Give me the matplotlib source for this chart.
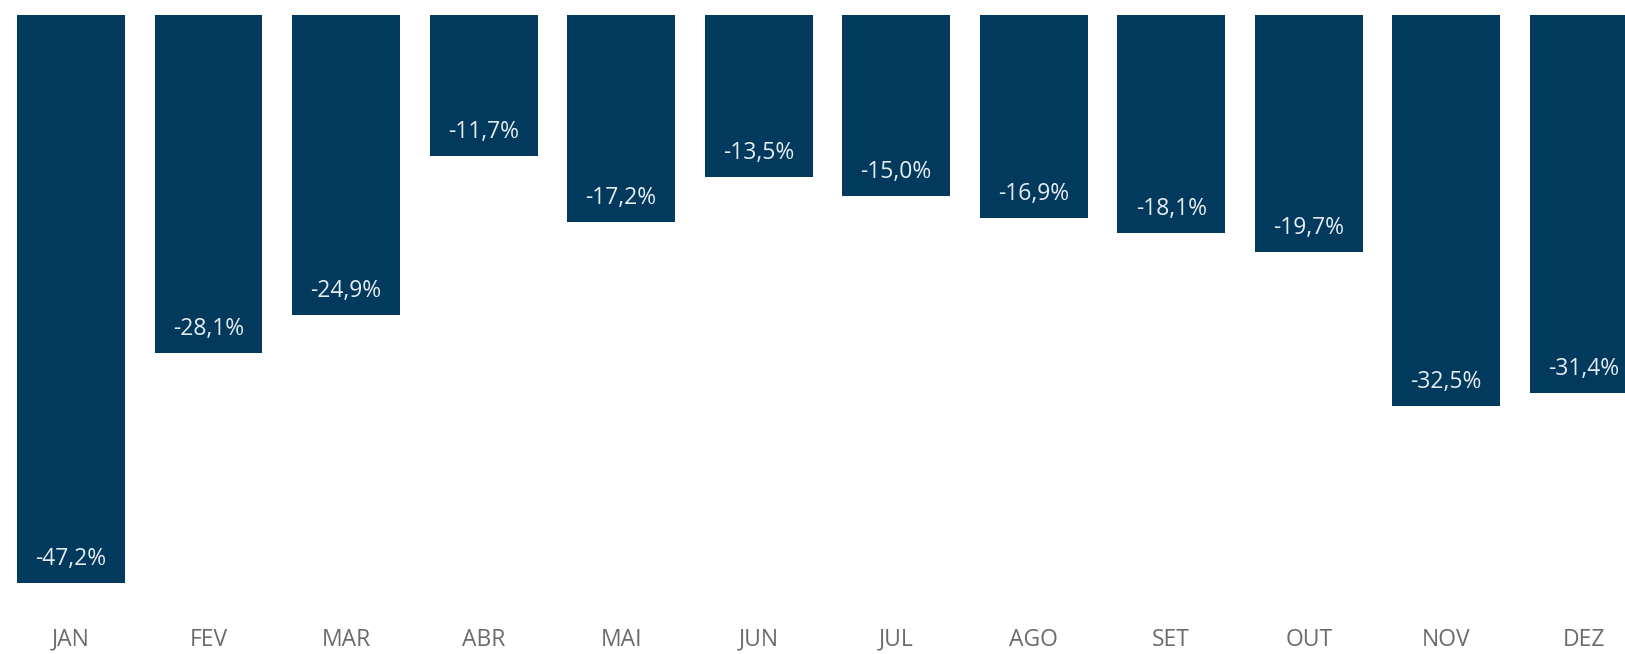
import matplotlib.pyplot as plt
import matplotlib.transforms as mtransforms

# dados mensais (variação %)
meses = ['JAN', 'FEV', 'MAR', 'ABR', 'MAI', 'JUN', 'JUL', 'AGO', 'SET', 'OUT', 'NOV', 'DEZ']
valores = [-47.2, -28.1, -24.9, -11.7, -17.2, -13.5, -15.0, -16.9, -18.1, -19.7, -32.5, -31.4]

cor_barra = '#023a5e'
plt.rcParams['font.family'] = ['Open Sans', 'DejaVu Sans']

fig = plt.figure(figsize=(16.25, 6.54), dpi=100)
ax = fig.add_axes([0, 0, 1, 1])

x = list(range(len(meses)))
ax.bar(x, valores, width=0.785, color=cor_barra)

# rótulos de valor dentro da barra, perto da base
for i, v in zip(x, valores):
    rot = f'{v:.1f}%'.replace('.', ',')
    ax.annotate(rot, (i, v), xytext=(0, 24), textcoords='offset pixels',
                ha='center', va='center', color='#e6ecf1', fontsize=16.5)

# nomes dos meses embaixo
trans = mtransforms.blended_transform_factory(ax.transData, ax.transAxes)
for i, m in zip(x, meses):
    ax.text(i, 0.022, m, transform=trans, ha='center', va='center',
            color='#6b6b6b', fontsize=16.5)

ax.set_xlim(-0.516, 11.30)
ax.set_ylim(-53.1, 1.25)
ax.axis('off')

fig.savefig('out.png', dpi=100)
